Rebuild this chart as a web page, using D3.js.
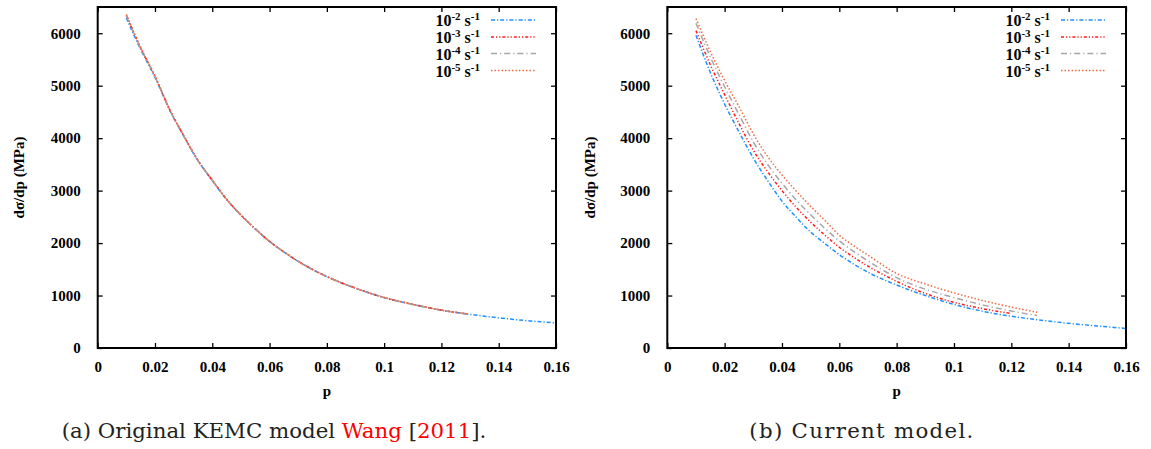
<!DOCTYPE html>
<html><head><meta charset="utf-8">
<script src="https://cdn.jsdelivr.net/npm/d3@7"></script>
<style>
html,body{margin:0;padding:0;background:#fff;}
svg{display:block;}
</style>
</head><body>
<svg id="chart" width="1151" height="449"></svg>
<script>
// ---- data ----
const seriesNames = ["10^-2", "10^-3", "10^-4", "10^-5"];
const xTicks = [0, 0.02, 0.04, 0.06, 0.08, 0.10, 0.12, 0.14, 0.16];
const yTicks = [0, 1000, 2000, 3000, 4000, 5000, 6000];

const pGrid = [0.01,0.015,0.02,0.025,0.03,0.035,0.04,0.045,0.05,0.055,0.06,0.065,0.07,0.08,0.09,0.10,0.11,0.12,0.129,0.14,0.15,0.16];

// (a) Original KEMC model
const aBlue   = [6290,5690,5160,4550,4040,3570,3190,2830,2530,2270,2030,1830,1650,1360,1140,960,830,720,648,575,520,478];
const aRed    = [6340,5720,5180,4560,4050,3575,3200,2835,2535,2272,2032,1832,1652,1362,1142,962,832,722,650];
const aGray   = [6330,5715,5175,4558,4048,3574,3198,2834,2534,2271,2031,1831,1651,1361,1141,961,831,721,649];
const aOrange = [6360,5725,5182,4562,4052,3576,3201,2836,2536,2273,2033,1833,1653,1363,1143,963,833,723,651];

// (b) Current model
const bBlue   = [5960,5250,4650,4120,3620,3190,2800,2490,2210,1990,1780,1600,1445,1200,1000,830,700,605,540,470,420,372];
const bRed    = [6050,5400,4830,4280,3770,3360,3000,2680,2400,2150,1920,1730,1560,1270,1040,870,750,655];
const bGray   = [6190,5550,4980,4450,3930,3500,3140,2820,2540,2280,2040,1840,1660,1340,1120,960,820,705,620];
const bOrange = [6280,5650,5100,4600,4080,3650,3300,2990,2700,2430,2150,1950,1770,1420,1220,1050,905,780,680];

const captionA = ["(a) Original KEMC model ", "Wang", " [", "2011", "]."];
const captionB = ["(b) Current model."];

// ---- styles ----
const colors = ["#1e90ff", "#ff1a1a", "#a6a6a6", "#f26a3d"];
const dashes = ["4,2,1.2,2", "3,2,1.2,2,1.2,2", "6,3,1.2,3", "1.5,2"];

const svg = d3.select("#chart");
svg.append("rect").attr("width",1151).attr("height",449).attr("fill","#fff");

function serif(sel, size) {
  return sel.attr("font-family", "Liberation Serif, Times New Roman, serif")
    .attr("font-weight", "bold").attr("font-size", size)
    .style("font-family", "'Liberation Serif', 'Times New Roman', serif")
    .style("font-weight", "bold").style("font-size", size + "px");
}

function panel(x0, x1, data, cx, captionParts, ylabX, legX, capSpacing) {
  const top = 7, bottom = 348;
  const x = d3.scaleLinear().domain([0, 0.16]).range([x0, x1]);
  const y = d3.scaleLinear().domain([0, 6500]).range([bottom, top]);
  const g = svg.append("g");

  const ax = g.append("g").attr("transform", `translate(0,${bottom})`)
    .call(d3.axisBottom(x).tickValues(xTicks).tickSize(-5).tickPadding(13)
      .tickFormat(d => d === 0 ? "0" : String(+d.toFixed(2))));
  ax.select(".domain").remove();
  const axT = g.append("g").attr("transform", `translate(0,${top})`)
    .call(d3.axisTop(x).tickValues(xTicks).tickSize(-5).tickFormat(""));
  axT.select(".domain").remove();
  const ay = g.append("g").attr("transform", `translate(${x0},0)`)
    .call(d3.axisLeft(y).tickValues(yTicks).tickSize(-5).tickPadding(17).tickFormat(d3.format("d")));
  ay.select(".domain").remove();
  const ayR = g.append("g").attr("transform", `translate(${x1},0)`)
    .call(d3.axisRight(y).tickValues(yTicks).tickSize(-5).tickFormat(""));
  ayR.select(".domain").remove();
  g.selectAll(".tick line").attr("stroke", "#000").attr("stroke-width", 1.3);
  serif(g.selectAll(".tick text"), 15).attr("fill", "#000");

  const line = d3.line().x(d => x(d[0])).y(d => y(d[1])).curve(d3.curveMonotoneX);
  data.forEach((vals, i) => {
    const pts = vals.map((v, k) => [pGrid[k], v]);
    g.append("path").attr("d", line(pts)).attr("fill", "none")
      .attr("stroke", colors[i]).attr("stroke-width", 1.5)
      .attr("stroke-dasharray", dashes[i]);
  });

  g.append("rect").attr("x", x0).attr("y", top).attr("width", x1 - x0).attr("height", bottom - top)
    .attr("fill", "none").attr("stroke", "#000").attr("stroke-width", 2);

  serif(g.append("text"), 15).attr("x", (x0 + x1) / 2).attr("y", 396).attr("text-anchor", "middle").text("p");
  serif(g.append("text"), 15).attr("transform", `translate(${ylabX},${(top + bottom) / 2}) rotate(-90)`)
    .attr("text-anchor", "middle").attr("dy", "0.35em").text("dσ/dp (MPa)");

  const rows = [20, 37, 53.5, 70.5];
  seriesNames.forEach((nm, i) => {
    const t = serif(g.append("text"), 16).attr("x", legX).attr("y", rows[i] + 6).attr("text-anchor", "end");
    t.append("tspan").text("10");
    t.append("tspan").attr("dy", -6).style("font-size", "11px").text(nm.split("^")[1]);
    t.append("tspan").attr("dy", 6).text(" s");
    t.append("tspan").attr("dy", -6).style("font-size", "11px").text("-1");
    g.append("line").attr("x1", legX + 11).attr("x2", legX + 56)
      .attr("y1", rows[i]).attr("y2", rows[i])
      .attr("stroke", colors[i]).attr("stroke-width", 1.5).attr("stroke-dasharray", dashes[i]);
  });

  const c = svg.append("text").attr("x", cx).attr("y", 438).attr("text-anchor", "middle")
    .style("font-family", "'DejaVu Serif', serif").style("font-size", "21.3px")
    .style("letter-spacing", capSpacing + "px").attr("fill", "#222");
  captionParts.forEach(s => {
    c.append("tspan").text(s).attr("fill", (s === "Wang" || s === "2011") ? "#ff0000" : "#222");
  });
}

panel(97.7, 556, [aBlue, aRed, aGray, aOrange], 274, captionA, 19, 480, 0);
panel(667.3, 1126, [bBlue, bRed, bGray, bOrange], 862, captionB, 590, 1050, 1.3);
</script>
</body></html>
